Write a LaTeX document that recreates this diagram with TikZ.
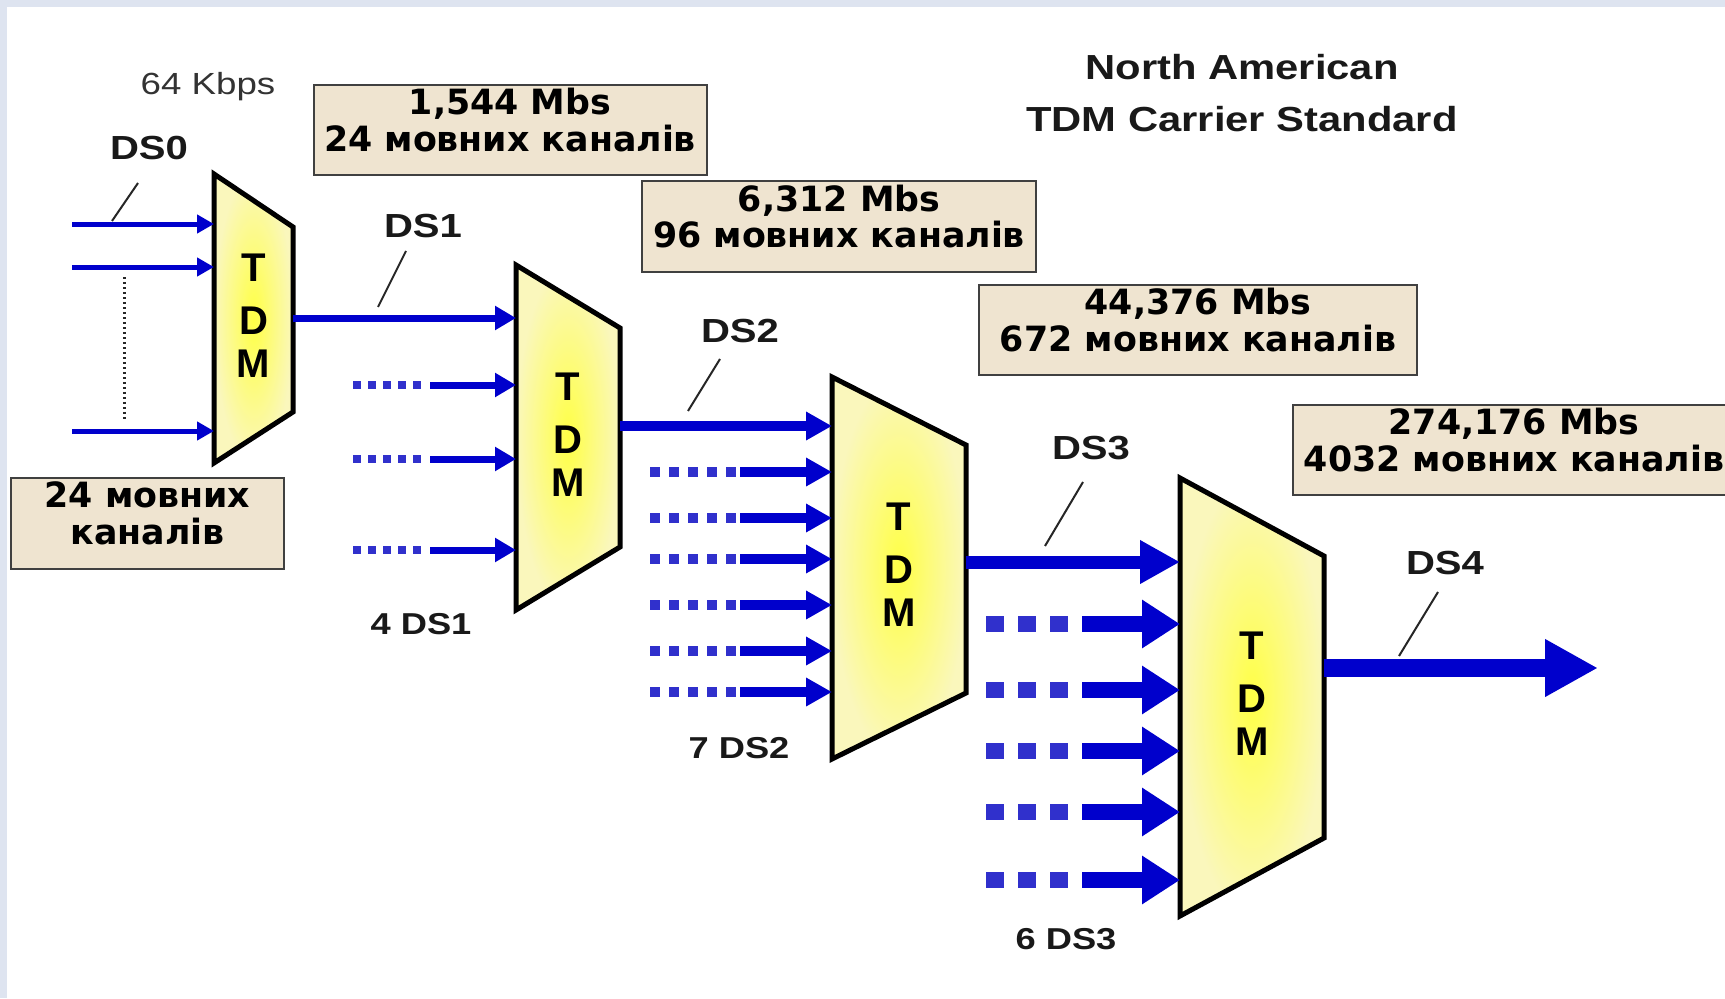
\documentclass[tikz,border=0pt]{standalone}
\usepackage{fontspec}
\setmainfont{Liberation Sans}
\newfontfamily\labelfont[FakeStretch=1.2]{Liberation Sans}
\newfontfamily\boxfont{DejaVu Sans}
\usetikzlibrary{arrows.meta}

\definecolor{pagebg}{RGB}{222,228,240}
\definecolor{sigblue}{RGB}{0,0,204}
\definecolor{dotblue}{RGB}{48,48,204}
\definecolor{ratefill}{RGB}{239,228,208}
\definecolor{muxcore}{RGB}{255,255,70}
\definecolor{muxedge}{RGB}{250,247,188}

\tikzset{
    muxbox/.style={draw=black, line width=0.5mm, line join=miter,
        inner color=muxcore, outer color=muxedge},
    muxtext/.style={font=\bfseries\fontsize{11.4}{12.2}\selectfont, align=center,
        inner sep=0pt},
    ratebox/.style={draw=black!75, line width=0.2mm, fill=ratefill, inner sep=0pt,
        align=center, text depth=2mm,
        font=\boxfont\bfseries\fontsize{9.9}{10.4}\selectfont},
    dslabel/.style={font=\labelfont\bfseries\fontsize{9.5}{11}\selectfont,
        text=black!90, inner sep=0pt},
    cntlabel/.style={font=\labelfont\bfseries\fontsize{8.6}{10}\selectfont,
        text=black!90, inner sep=0pt},
    leader/.style={line width=0.2mm, black!85},
    ds0/.style={sigblue, line width=0.5mm, -{Triangle[length=1.7mm, width=1.8mm]}},
    ds1/.style={sigblue, line width=0.7mm, -{Triangle[length=2.1mm, width=2.3mm]}},
    ds2/.style={sigblue, line width=1mm, -{Triangle[length=2.6mm, width=2.7mm]}},
    ds3/.style={sigblue, line width=1.3mm, -{Triangle[length=4mm, width=4.1mm]}},
    ds3in/.style={sigblue, line width=1.55mm, -{Triangle[length=3.8mm, width=4.6mm]}},
    ds4/.style={sigblue, line width=1.8mm, -{Triangle[length=5.3mm, width=5.4mm]}},
    dots1/.style={dotblue, line width=0.85mm, dash pattern=on 0.8mm off 0.7mm},
    dots2/.style={dotblue, line width=1.05mm, dash pattern=on 1mm off 0.9mm},
    dots3/.style={dotblue, line width=1.6mm, dash pattern=on 1.8mm off 1.4mm},
}

\begin{document}
\begin{tikzpicture}[x=0.1mm, y=-0.1mm]
    \useasboundingbox (0,0) rectangle (1725,998);
    \clip (0,0) rectangle (1725,998);
    \fill[pagebg] (0,0) rectangle (1725,998);
    \fill[white] (7,7) rectangle (1725,998);

    % multiplexers
    \foreach \m/\xl/\xr/\yt/\yb/\ytr/\ybr in {m1/214/293/174/463/227/412,
            m2/516/620/265/610/328/547, m3/832/966/377/759/445/693,
            m4/1180/1324/478/916/556/838} {
        \coordinate (\m-tl) at (\xl,\yt);
        \coordinate (\m-bl) at (\xl,\yb);
        \coordinate (\m-tr) at (\xr,\ytr);
        \coordinate (\m-br) at (\xr,\ybr);
        \shadedraw[muxbox] (\m-tl) -- (\m-tr) -- (\m-br) -- (\m-bl) -- cycle;
        \node[muxtext] (\m) at ({(\xl+\xr)/2}, {(\yt+\yb)/2-3}) {T\\[1mm]D\\M};
    }

    % DS0 inputs
    \foreach \y [count=\i] in {224,267,431} {
        \coordinate (d0-\i) at (72,\y);
        \draw[ds0] (d0-\i) -- (d0-\i -| m1-tl);
    }
    \draw[black!85, line width=0.3mm, dash pattern=on 0.2mm off 0.3mm]
        (124,277) -- (124,420);

    % DS1
    \coordinate (s1) at (293,318);
    \draw[ds1] (s1) -- (s1 -| m2-tl);
    \foreach \y [count=\i] in {385,459,550} {
        \coordinate (d1-\i) at (353,\y);
        \coordinate (e1-\i) at (430,\y);
        \draw[dots1] (d1-\i) -- ++(69,0);
        \draw[ds1] (e1-\i) -- (e1-\i -| m2-tl);
    }

    % DS2
    \coordinate (s2) at (620,426);
    \draw[ds2] (s2) -- (s2 -| m3-tl);
    \foreach \y [count=\i] in {472,518,559,605,651,692} {
        \coordinate (d2-\i) at (650,\y);
        \coordinate (e2-\i) at (740,\y);
        \draw[dots2] (d2-\i) -- ++(87,0);
        \draw[ds2] (e2-\i) -- (e2-\i -| m3-tl);
    }

    % DS3
    \coordinate (s3) at (966,562);
    \draw[ds3] (s3) -- (s3 -| m4-tl);
    \foreach \y [count=\i] in {624,690,751,812,880} {
        \coordinate (d3-\i) at (986,\y);
        \coordinate (e3-\i) at (1082,\y);
        \draw[dots3] (d3-\i) -- ++(83,0);
        \draw[ds3in] (e3-\i) -- (e3-\i -| m4-tl);
    }

    % DS4
    \coordinate (s4) at (1324,668);
    \coordinate (s4-end) at (1598,668);
    \draw[ds4] (s4) -- (s4-end);

    % labels
    \node[font=\labelfont\fontsize{8.7}{10}\selectfont, text=black!80, inner sep=0pt]
        (kbps) at (208,87) {64 Kbps};
    \node[dslabel] (l-ds0) at (149,148) {DS0};
    \node[dslabel] (l-ds1) at (423,226) {DS1};
    \node[dslabel] (l-ds2) at (740,331) {DS2};
    \node[dslabel] (l-ds3) at (1091,448) {DS3};
    \node[dslabel] (l-ds4) at (1445,563) {DS4};
    \node[cntlabel] (n-ds1) at (421,624) {4 DS1};
    \node[cntlabel] (n-ds2) at (739,748) {7 DS2};
    \node[cntlabel] (n-ds3) at (1066,939) {6 DS3};

    \draw[leader] (138,183) -- (112,221);
    \draw[leader] (406,251) -- (378,307);
    \draw[leader] (720,359) -- (688,411);
    \draw[leader] (1083,482) -- (1045,546);
    \draw[leader] (1438,592) -- (1399,656);

    \node[font=\labelfont\bfseries\fontsize{9.9}{14.8}\selectfont, text=black!90,
        align=center, inner sep=0pt] (title) at (1242,93)
        {North American\\TDM Carrier Standard};

    % rate boxes
    \node[ratebox, minimum width=39.3mm, minimum height=9mm] (r1) at (510,130)
        {1,544 Mbs\\24 мовних каналів};
    \node[ratebox, minimum width=39.4mm, minimum height=9.1mm] (r2) at (839,226.5)
        {6,312 Mbs\\96 мовних каналів};
    \node[ratebox, minimum width=43.8mm, minimum height=9mm] (r3) at (1198,330)
        {44,376 Mbs\\672 мовних каналів};
    \node[ratebox, minimum width=44.2mm, minimum height=9mm] (r4) at (1514,450)
        {274,176 Mbs\\4032 мовних каналів};
    \node[ratebox, minimum width=27.3mm, minimum height=9.1mm] (r0) at (147.5,523)
        {24 мовних\\каналів};
\end{tikzpicture}
\end{document}
